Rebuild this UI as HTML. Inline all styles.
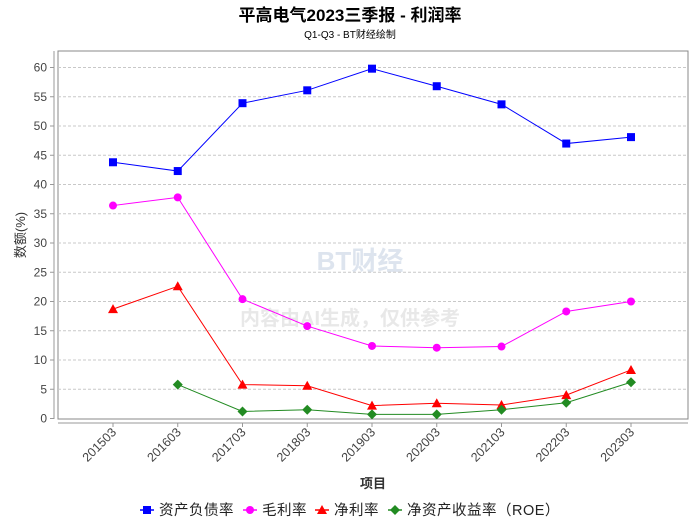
<!DOCTYPE html>
<html><head><meta charset="utf-8"><style>
body{margin:0;background:#fff;}
svg text{font-family:"Liberation Sans","Noto Sans CJK SC",sans-serif;}
</style></head><body>
<svg id="c" width="700" height="524" viewBox="0 0 700 524" xmlns="http://www.w3.org/2000/svg">
<text x="350" y="21" text-anchor="middle" font-size="17" font-weight="bold" fill="#000">平高电气2023三季报 - 利润率</text>
<text x="350" y="38" text-anchor="middle" font-size="10" fill="#000">Q1-Q3 - BT财经绘制</text>
<rect x="58" y="51" width="630" height="368" fill="#fff" stroke="#888" stroke-width="1"/>
<text x="360" y="270" text-anchor="middle" font-size="26" font-weight="bold" fill="#dde4ee" font-family="Liberation Serif">BT财经</text>
<text x="350" y="325" text-anchor="middle" font-size="20" font-weight="bold" fill="#e8e8e8">内容由AI生成，仅供参考</text>
<g id="grid"></g><g id="axes"></g><g id="series"></g>
<text transform="translate(25,235) rotate(-90)" text-anchor="middle" font-size="13" fill="#333">数额(%)</text>
<text x="373" y="488" text-anchor="middle" font-size="13" font-weight="bold" fill="#333">项目</text>
<g id="legend"></g>
</svg>
<script>
const categories=["201503","201603","201703","201803","201903","202003","202103","202203","202303"];
const debtRatio=[43.8,42.3,53.9,56.1,59.8,56.8,53.7,47.0,48.1];
const grossMargin=[36.4,37.8,20.4,15.8,12.4,12.1,12.3,18.3,20.0];
const netMargin=[18.7,22.6,5.8,5.6,2.2,2.6,2.3,4.0,8.3];
const roe=[null,5.8,1.2,1.5,0.7,0.7,1.5,2.7,6.2];
const yTicks=[0,5,10,15,20,25,30,35,40,45,50,55,60];
const seriesNames=["资产负债率","毛利率","净利率","净资产收益率（ROE）"];
const NS="http://www.w3.org/2000/svg";
const x=i=>113+i*64.75;
const y=v=>418.5-v*5.85;
function mk(t,a,p){const e=document.createElementNS(NS,t);for(const k in a)e.setAttribute(k,a[k]);p.appendChild(e);return e;}
const grid=document.getElementById('grid'),axes=document.getElementById('axes'),ser=document.getElementById('series'),leg=document.getElementById('legend');
mk('line',{x1:54,y1:51,x2:54,y2:419,stroke:'#999'},axes);
mk('line',{x1:58,y1:423,x2:688,y2:423,stroke:'#999'},axes);
yTicks.forEach(v=>{
  if(v>0){const g=mk('line',{x1:58,y1:y(v),x2:688,y2:y(v),stroke:'#c8c8c8','stroke-dasharray':'3,2'},grid);
  
  }
  mk('line',{x1:50,y1:y(v),x2:54,y2:y(v),stroke:'#999'},axes);
  const t=mk('text',{x:47,y:y(v)+4,'text-anchor':'end','font-size':12,fill:'#444'},axes);t.textContent=v;
  
  
});
categories.forEach((c,i)=>{
  mk('line',{x1:x(i),y1:423,x2:x(i),y2:427,stroke:'#999'},axes);
  const t=mk('text',{x:x(i)+4,y:433,'text-anchor':'end','font-size':12.5,fill:'#444',transform:`rotate(-45 ${x(i)+4} 433)`},axes);t.textContent=c;
  
  
});
function marker(type,cx,cy,col,p){
  if(type==='sq')return mk('rect',{x:cx-4,y:cy-4,width:8,height:8,fill:col},p);
  if(type==='ci')return mk('circle',{cx,cy,r:4,fill:col},p);
  if(type==='tr')return mk('polygon',{points:`${cx},${cy-5} ${cx+5},${cy+4} ${cx-5},${cy+4}`,fill:col},p);
  return mk('polygon',{points:`${cx},${cy-5} ${cx+5},${cy} ${cx},${cy+5} ${cx-5},${cy}`,fill:col},p);
}
const defs=[[debtRatio,'#0000ff','sq','series-debt-ratio'],[grossMargin,'#ff00ff','ci','series-gross-margin'],[netMargin,'#ff0000','tr','series-net-margin'],[roe,'#228b22','di','series-roe']];
defs.forEach(([d,col,m,name])=>{
  const g=mk('g',{},ser);
  
  
  let pts=[];d.forEach((v,i)=>{if(v!==null)pts.push(x(i)+','+y(v));});
  mk('polyline',{points:pts.join(' '),fill:'none',stroke:col,'stroke-width':1},g);
  d.forEach((v,i)=>{if(v!==null){const e=marker(m,x(i),y(v),col,g);
    
    }});
});
let lx=[140,243,315,388];
defs.forEach(([d,col,m],k)=>{
  const g=mk('g',{},leg);
  
  
  mk('line',{x1:lx[k],y1:510,x2:lx[k]+14,y2:510,stroke:col,'stroke-width':1.5},g);
  marker(m,lx[k]+7,510,col,g);
  const t=mk('text',{x:lx[k]+19,y:515,'font-size':14.5,fill:'#222','letter-spacing':'0.5'},g);t.textContent=seriesNames[k];
});
</script>
</body></html>
